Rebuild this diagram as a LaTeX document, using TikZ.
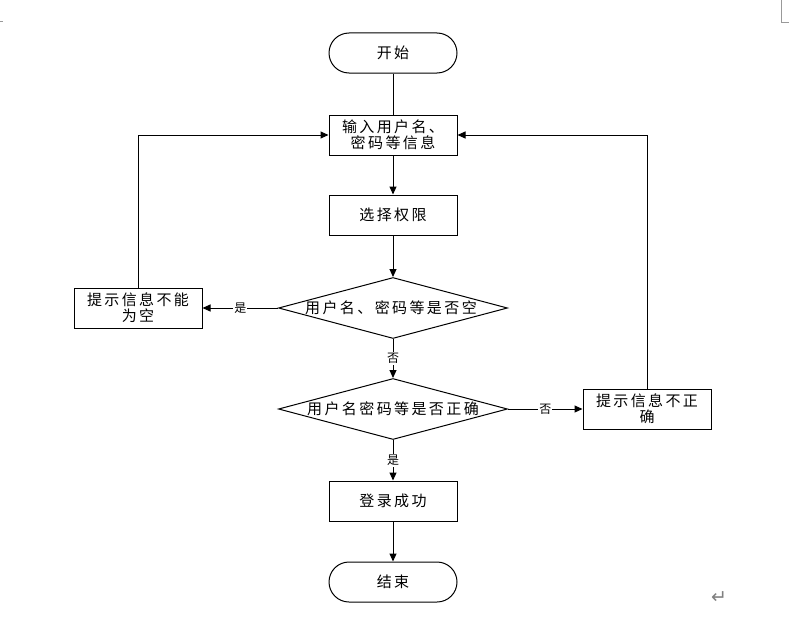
\documentclass[tikz,border=0pt]{standalone}
\usepackage{fontspec}
\newfontfamily\cjk{Noto Sans CJK SC}[LetterSpace=16]
\newfontfamily\cjklab{Noto Sans CJK SC}
\newfontfamily\dejavu{DejaVu Sans}
\usetikzlibrary{arrows.meta,shapes.geometric}
\tikzset{
  every picture/.style={x=1pt,y=-1pt},
  base/.style={draw=black, line width=1pt, font=\cjk\fontsize{15}{16}\selectfont, align=center, inner sep=0pt},
  procbox/.style={base, rectangle, minimum width=128pt, minimum height=40pt},
  termbox/.style={base, rectangle, rounded corners=20pt, minimum width=128pt, minimum height=40pt},
  decbox/.style={draw=black, line width=1pt, diamond, minimum width=229pt, minimum height=61pt, inner sep=0pt},
  dectext/.style={font=\cjk\fontsize{15}{16}\selectfont, inner sep=0pt},
  conn/.style={line width=1pt, -{Triangle[length=8pt,width=7pt]}},
  plainline/.style={line width=1pt},
  lab/.style={fill=white, font=\cjklab\fontsize{12}{12}\selectfont, inner sep=1pt},
  pagemark/.style={draw=gray!80, line width=0.8pt}
}
\begin{document}
\begin{tikzpicture}
\useasboundingbox (0,0) rectangle (789,618);
% nodes
\node[termbox] (start) at (393,53) {开始};
\node[procbox] (input) at (393,135) {输入用户名、\\密码等信息};
\node[procbox] (select) at (393,215) {选择权限};
\node[decbox] (d1) at (393,308) {};
\node[dectext] (d1t) at (391,308) {用户名、密码等是否空};
\node[procbox] (empty) at (138,308) {提示信息不能\\为空};
\node[decbox] (d2) at (393,409) {};
\node[dectext] (d2t) at (393,409) {用户名密码等是否正确};
\node[procbox] (wrong) at (647,409) {提示信息不正\\确};
\node[procbox] (ok) at (393,501) {登录成功};
\node[termbox] (stop) at (393,582) {结束};
% connectors
\draw[plainline] (start) -- (input);
\draw[conn] (input) -- (select);
\draw[conn] (select) -- (d1.north);
\draw[conn] (d1.west) -- node[lab] {是} (empty.east);
\draw[conn] (empty.north) |- (input.west);
\draw[conn] (d1.south) -- node[lab] {否} (d2.north);
\draw[conn] (d2.east) -- node[lab] {否} (wrong.west);
\draw[conn] (wrong.north) |- (input.east);
\draw[conn] (d2.south) -- node[lab] {是} (ok.north);
\draw[conn] (ok) -- (stop);
% page marks
\coordinate (m1) at (0,21);
\coordinate (m2) at (3,21);
\draw[pagemark] (m1) -- (m2);
\coordinate (m3) at (781.5,0);
\coordinate (m4) at (789,22);
\draw[pagemark] (m3) |- (m4);
\node[text=gray, font=\dejavu\fontsize{19}{19}\selectfont, inner sep=0pt] (ret) at (719,598) {↵};
\end{tikzpicture}
\end{document}
